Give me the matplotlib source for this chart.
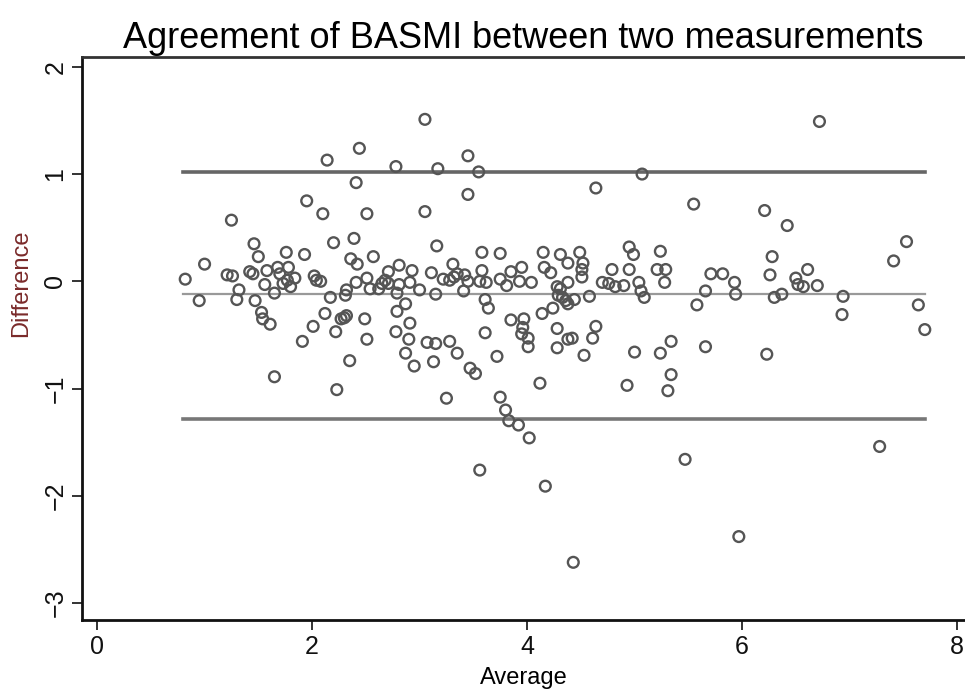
import numpy as np
import matplotlib
matplotlib.use("Agg")
import matplotlib.pyplot as plt

plt.rcParams['font.family'] = ['Liberation Sans', 'DejaVu Sans']

# Bland-Altman points: (average, difference)
avg = [0.82, 0.95, 1.00, 1.25, 1.21, 1.26, 1.32, 1.30, 1.46, 1.50, 1.42, 1.45, 1.47,
       1.53, 1.54, 1.61, 1.56, 1.58, 1.65, 1.68, 1.70, 1.76, 1.78, 1.73, 1.77, 1.80,
       1.84, 1.93, 1.95, 2.02, 2.04, 2.08, 2.10, 2.14, 2.20, 2.17, 2.12, 2.01, 1.91,
       2.22, 2.27, 2.30, 2.32, 2.32, 2.31, 2.36, 2.42, 2.39, 2.41, 2.44, 2.41, 2.49,
       2.51, 2.51, 2.51, 1.65, 2.23, 2.35, 2.54,
       3.05, 2.78, 3.17, 3.45, 3.55, 3.45, 3.05, 3.16, 2.57, 2.81, 2.71, 2.93, 3.11,
       3.31, 3.22, 3.28, 3.32, 3.35, 3.42, 3.45, 3.58, 3.58, 3.56, 3.62, 3.75, 3.75,
       3.81, 3.85, 3.95, 3.93, 4.04, 4.15, 4.16, 4.22, 4.28, 2.62, 2.65, 2.68, 2.71,
       2.79, 2.81, 2.91, 3.00, 3.15, 3.41, 3.61, 3.64, 2.87, 2.79, 2.91, 2.78, 2.90,
       3.07, 3.15, 3.28, 2.87, 3.35, 3.72, 3.61, 3.85, 3.97, 3.96, 3.95, 4.01, 4.01,
       4.14, 4.24, 4.28, 4.28,
       2.95, 3.13, 3.47, 3.52, 3.25, 3.75, 3.80, 3.83, 3.92, 4.02, 4.12, 3.56, 4.17, 4.43,
       5.07, 4.64, 5.55, 4.31, 4.38, 4.49, 4.52, 4.51, 4.51, 4.38, 4.31, 4.29, 4.33,
       4.36, 4.38, 4.44, 4.58, 4.70, 4.76, 4.82, 4.90, 4.79, 4.95, 4.99, 4.95, 5.04,
       5.06, 5.09, 5.24, 5.21, 5.29, 5.28, 5.71, 5.82, 5.93, 5.66, 5.94, 5.58, 4.64,
       4.38, 4.42, 4.61, 4.53, 5.00, 5.24, 5.34, 5.66,
       4.93, 5.34, 5.31, 5.47, 5.97, 7.28,
       6.72, 6.21, 6.42, 7.53, 7.41, 6.28, 6.26, 6.61, 6.50, 6.52, 6.57, 6.70, 6.30,
       6.37, 6.94, 6.93, 7.64, 7.70, 6.23]
diff = [0.02, -0.18, 0.16, 0.57, 0.06, 0.05, -0.08, -0.17, 0.35, 0.23, 0.09, 0.07, -0.18,
        -0.29, -0.35, -0.40, -0.03, 0.10, -0.11, 0.13, 0.07, 0.27, 0.13, -0.02, 0.01, -0.05,
        0.03, 0.25, 0.75, 0.05, 0.01, 0.00, 0.63, 1.13, 0.36, -0.15, -0.30, -0.42, -0.56,
        -0.47, -0.35, -0.34, -0.32, -0.08, -0.13, 0.21, 0.16, 0.40, 0.92, 1.24, -0.01, -0.35,
        0.63, -0.54, 0.03, -0.89, -1.01, -0.74, -0.07,
        1.51, 1.07, 1.05, 1.17, 1.02, 0.81, 0.65, 0.33, 0.23, 0.15, 0.09, 0.10, 0.08,
        0.16, 0.02, 0.01, 0.04, 0.07, 0.06, 0.00, 0.27, 0.10, 0.00, -0.01, 0.26, 0.02,
        -0.04, 0.09, 0.13, 0.00, -0.01, 0.27, 0.13, 0.08, -0.05, -0.07, -0.02, 0.01, -0.02,
        -0.11, -0.03, -0.01, -0.08, -0.12, -0.09, -0.17, -0.25, -0.21, -0.28, -0.39, -0.47, -0.54,
        -0.57, -0.58, -0.56, -0.67, -0.67, -0.70, -0.48, -0.36, -0.35, -0.43, -0.49, -0.53, -0.61,
        -0.30, -0.25, -0.44, -0.62,
        -0.79, -0.75, -0.81, -0.86, -1.09, -1.08, -1.20, -1.30, -1.34, -1.46, -0.95, -1.76, -1.91, -2.62,
        1.00, 0.87, 0.72, 0.25, 0.17, 0.27, 0.17, 0.11, 0.04, -0.01, -0.07, -0.13, -0.15,
        -0.18, -0.21, -0.17, -0.14, -0.01, -0.02, -0.05, -0.04, 0.11, 0.32, 0.25, 0.11, -0.01,
        -0.09, -0.15, 0.28, 0.11, 0.11, -0.01, 0.07, 0.07, -0.01, -0.09, -0.12, -0.22, -0.42,
        -0.54, -0.53, -0.53, -0.69, -0.66, -0.67, -0.56, -0.61,
        -0.97, -0.87, -1.02, -1.66, -2.38, -1.54,
        1.49, 0.66, 0.52, 0.37, 0.19, 0.23, 0.06, 0.11, 0.03, -0.03, -0.05, -0.04, -0.15,
        -0.12, -0.14, -0.31, -0.22, -0.45, -0.68]

mean_diff = -0.12
upper_loa = 1.02
lower_loa = -1.28
line_x = [0.80, 7.70]

fig = plt.figure(figsize=(9.65, 6.93), dpi=100)
ax = fig.add_axes([0.085, 0.105, 0.915, 0.813])

ax.plot(line_x, [upper_loa, upper_loa], color="#666666", lw=2.6, zorder=1)
ax.plot(line_x, [lower_loa, lower_loa], color="#777777", lw=2.6, zorder=1)
ax.plot(line_x, [mean_diff, mean_diff], color="#999999", lw=1.6, zorder=1)
ax.scatter(avg, diff, s=60, facecolors="none", edgecolors="#555555", linewidths=1.7, zorder=2)

ax.set_xlim(-0.14, 8.074)
ax.set_ylim(-3.16, 2.093)
ax.set_xticks([0, 2, 4, 6, 8])
ax.set_yticks([-3, -2, -1, 0, 1, 2])
ax.tick_params(axis="both", direction="out", length=7, width=1.2, labelsize=18, colors="#111111")
for lab in ax.get_yticklabels():
    lab.set_rotation(90)
    lab.set_va("center")

for s in ["left", "bottom"]:
    ax.spines[s].set_linewidth(2)
    ax.spines[s].set_color("#111111")
ax.spines["top"].set_linewidth(2)
ax.spines["top"].set_color("#333333")
ax.spines["right"].set_visible(False)

ax.set_xlabel("Average", fontsize=17, labelpad=6)
ax.set_ylabel("Difference", fontsize=17, color="#7a2a2a")
ax.yaxis.set_label_coords(-0.056, 0.599)
ax.set_title("Agreement of BASMI between two measurements", fontsize=26, pad=6)

fig.savefig("out.png", dpi=100)
